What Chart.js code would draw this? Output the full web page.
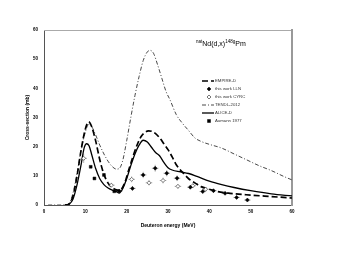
<!DOCTYPE html>
<html>
<head>
<meta charset="utf-8">
<script src="https://cdn.jsdelivr.net/npm/chart.js@4.4.1/dist/chart.umd.min.js"></script>
<style>body{margin:0;background:#fff}</style>
</head>
<body>
<canvas id="grafico" width="341" height="264"></canvas>
<script>
// curvas teoricas
const energiaEmpire = [5, 6, 7, 8, 9, 10, 10.8, 11.5, 12.5, 13.5, 14.5, 15.5, 16.5, 17.5, 18.3, 19.5, 20.5, 21.5, 22.5, 23.5, 24.5, 25.3, 26, 27, 28, 29, 30, 31, 32, 33, 33.8, 35, 36.6, 38, 40, 42, 45, 50, 55, 60];
const empire = [0, 0.3, 3, 10, 19, 26, 28.5, 27, 22, 15.5, 10.5, 7.5, 6, 5.2, 5, 7.5, 12, 16.5, 20.5, 23.5, 25, 25.4, 25.3, 24.5, 23, 21, 19, 16.5, 13.8, 12, 10.8, 9, 7.5, 6.3, 5.4, 4.6, 4, 3.4, 2.9, 2.4];

const energiaAlice = [5.5, 6, 7, 8, 9, 9.7, 10.3, 10.9, 11.5, 12.5, 13.5, 14.5, 15.5, 16.5, 17.5, 18.2, 19, 20, 21, 22, 23, 24, 25, 26, 27, 28, 29, 30, 31, 33, 35, 37, 40, 43, 46, 50, 55, 60];
const alice = [0, 0.2, 2, 7, 14, 19.5, 21, 20.3, 17.5, 12.5, 9, 7, 5.8, 5.1, 4.6, 4.1, 5.5, 9, 13.5, 17.5, 20.5, 22.2, 21.6, 19.8, 18, 16.8, 14.6, 12.8, 12, 11.4, 10.8, 9.8, 8.2, 7, 6, 4.9, 3.8, 3.1];

const energiaTendl = [1, 5, 6, 7, 8, 9, 10, 10.9, 11.5, 12.5, 13.5, 14.5, 15.5, 16.5, 17.5, 18.2, 19, 20, 21, 22, 23, 24, 25, 25.7, 26.5, 27.5, 28.5, 29.5, 30.5, 32, 33.5, 35, 36.5, 38, 40, 43, 46, 49, 52, 55, 58, 60];
const tendl = [0, 0, 0.5, 4, 11, 19, 25, 27.8, 27, 24, 20.5, 17.5, 15, 13.2, 12.3, 12.5, 15, 22, 30, 37.5, 44, 49.5, 52.5, 53, 52, 48, 43.5, 39, 36, 31, 28, 25.5, 23, 21.8, 20.8, 19.5, 17.5, 15.5, 13.5, 11.8, 9.8, 8.6];

// datos experimentales
const energiaLLN = [18.2, 21.4, 24, 26.9, 29.7, 32.2, 35.4, 38.4, 41, 43.8, 46.6, 49.2];
const lln = [4.8, 5.7, 10.3, 12.6, 10.9, 9.2, 6.1, 4.6, 4.9, 4.0, 2.6, 1.7];
const errorLLN = [0.6, 0.7, 1.1, 1.2, 1.1, 1.0, 0.7, 0.6, 0.6, 0.5, 0.4, 0.3];

const energiaCYRC = [9.6, 16.3, 21.2, 25.4, 28.8, 32.4, 36, 39.1];
const cyrc = [16, 6.8, 8.8, 7.6, 8.4, 6.4, 6.6, 5.4];
const errorCYRC = [1.6, 0.8, 1.0, 0.9, 1.0, 0.8, 0.8, 0.7];

const energiaAumann = [11.3, 12.2, 14.5, 17];
const aumann = [13.1, 9.1, 10.3, 4.7];

const errorEnergia = 0.8;
const ticksX = [0, 10, 20, 30, 40, 50, 60];
const ticksY = [0, 10, 20, 30, 40, 50, 60];
const ordenLeyenda = ['EMPIRE-D', 'this work LLN', 'this work CYRC', 'TENDL-2012', 'ALICE-D', 'Aumann 1977'];

function pares(xs, ys, errs) {
    return xs.map((x, i) => ({ x: x, y: ys[i], err: errs ? errs[i] : 0 }));
}

const fuente = 'Liberation Sans, Arial, sans-serif';

const barrasError = {
    id: 'barrasError',
    beforeDatasetsDraw(chart) {
        const ctx = chart.ctx;
        const sx = chart.scales.x, sy = chart.scales.y;
        ctx.save();
        ctx.strokeStyle = '#999';
        ctx.lineWidth = 0.7;
        chart.data.datasets.forEach(ds => {
            if (!ds.conError) return;
            ds.data.forEach(p => {
                const px = sx.getPixelForValue(p.x), py = sy.getPixelForValue(p.y);
                ctx.beginPath();
                ctx.moveTo(sx.getPixelForValue(p.x - errorEnergia), py);
                ctx.lineTo(sx.getPixelForValue(p.x + errorEnergia), py);
                ctx.moveTo(px, sy.getPixelForValue(p.y - p.err));
                ctx.lineTo(px, sy.getPixelForValue(p.y + p.err));
                ctx.stroke();
            });
        });
        ctx.restore();
    }
};

function marcador(ctx, ds, x, y) {
    const r = ds.pointRadius;
    ctx.beginPath();
    if (ds.pointStyle === 'rectRot') {
        ctx.moveTo(x, y - r);
        ctx.lineTo(x + r, y);
        ctx.lineTo(x, y + r);
        ctx.lineTo(x - r, y);
        ctx.closePath();
    } else {
        const l = r * 0.75;
        ctx.rect(x - l, y - l, 2 * l, 2 * l);
    }
    ctx.fillStyle = ds.pointBackgroundColor;
    ctx.fill();
    ctx.lineWidth = ds.pointBorderWidth;
    ctx.strokeStyle = ds.pointBorderColor;
    ctx.stroke();
}

const leyendaYTitulo = {
    id: 'leyendaYTitulo',
    afterDraw(chart) {
        const ctx = chart.ctx;
        ctx.save();
        // titulo
        let x = 196;
        const yb = 46;
        ctx.fillStyle = '#000';
        ctx.textBaseline = 'alphabetic';
        const piezas = [['nat', 4.5, -3], ['Nd(d,x)', 7, 0], ['148g', 4.5, -3], ['Pm', 7, 0]];
        piezas.forEach(([t, s, dy]) => {
            ctx.font = s + 'px ' + fuente;
            ctx.fillText(t, x, yb + dy);
            x += ctx.measureText(t).width;
        });
        // leyenda
        ctx.font = '4.3px ' + fuente;
        ctx.textBaseline = 'middle';
        ordenLeyenda.forEach((nombre, i) => {
            const ds = chart.data.datasets.find(d => d.label === nombre);
            const y = 81 + i * 8;
            if (ds.showLine === false) {
                marcador(ctx, ds, 209, y);
            } else {
                ctx.strokeStyle = ds.borderColor;
                ctx.lineWidth = ds.borderWidth;
                ctx.setLineDash(ds.borderDash || []);
                ctx.beginPath();
                ctx.moveTo(202, y);
                ctx.lineTo(214, y);
                ctx.stroke();
                ctx.setLineDash([]);
            }
            ctx.fillStyle = '#333';
            ctx.fillText(nombre, 215, y);
        });
        ctx.restore();
    }
};

const ctx = document.getElementById('grafico').getContext('2d');
window.chart = new Chart(ctx, {
    type: 'line',
    data: {
        datasets: [
            {
                label: 'this work LLN', data: pares(energiaLLN, lln, errorLLN), conError: true,
                showLine: false, pointStyle: 'rectRot', pointRadius: 2,
                pointBackgroundColor: '#000', pointBorderColor: '#000', pointBorderWidth: 0.5
            },
            {
                label: 'this work CYRC', data: pares(energiaCYRC, cyrc, errorCYRC), conError: true,
                showLine: false, pointStyle: 'rectRot', pointRadius: 2,
                pointBackgroundColor: '#fff', pointBorderColor: '#555', pointBorderWidth: 0.8
            },
            {
                label: 'Aumann 1977', data: pares(energiaAumann, aumann),
                showLine: false, pointStyle: 'rect', pointRadius: 2,
                pointBackgroundColor: '#000', pointBorderColor: '#000', pointBorderWidth: 0.5
            },
            {
                label: 'ALICE-D', data: pares(energiaAlice, alice),
                borderColor: '#000', borderWidth: 1.3, pointRadius: 0, cubicInterpolationMode: 'monotone'
            },
            {
                label: 'EMPIRE-D', data: pares(energiaEmpire, empire),
                borderColor: '#000', borderWidth: 1.7, borderDash: [6, 3], pointRadius: 0, cubicInterpolationMode: 'monotone'
            },
            {
                label: 'TENDL-2012', data: pares(energiaTendl, tendl),
                borderColor: '#333', borderWidth: 0.9, borderDash: [4, 2, 1, 2], pointRadius: 0, cubicInterpolationMode: 'monotone'
            }
        ]
    },
    options: {
        responsive: false,
        animation: false,
        layout: { padding: 0 },
        plugins: { legend: { display: false }, tooltip: { enabled: false } },
        scales: {
            x: {
                type: 'linear', position: 'bottom', min: 0, max: 60,
                afterBuildTicks: s => { s.ticks = ticksX.map(v => ({ value: v })); },
                afterFit: s => { s.height = 59; },
                grid: { display: false, drawTicks: false },
                border: { color: '#555', width: 1 },
                ticks: { color: '#000', padding: 4, maxRotation: 0, font: { size: 4.5, weight: 'bold', family: fuente } },
                title: { display: true, text: 'Deuteron energy (MeV)', color: '#000', padding: { top: 0, bottom: 35 }, font: { size: 5, weight: 'bold', family: fuente } }
            },
            y: {
                type: 'linear', position: 'left', min: 0, max: 60,
                afterBuildTicks: s => { s.ticks = ticksY.map(v => ({ value: v })); },
                afterFit: s => { s.width = 44; },
                grid: { display: false, drawTicks: false },
                border: { color: '#555', width: 1 },
                ticks: { color: '#000', padding: 6, font: { size: 4.5, weight: 'bold', family: fuente } },
                title: { display: true, text: 'Cross-section (mb)', color: '#000', padding: { top: 25, bottom: 0 }, font: { size: 5, weight: 'bold', family: fuente } }
            },
            x2: {
                type: 'linear', position: 'top', min: 0, max: 60,
                afterFit: s => { s.height = 30; },
                grid: { display: false, drawTicks: false }, ticks: { display: false },
                border: { color: '#aaa', width: 1 }
            },
            y2: {
                type: 'linear', position: 'right', min: 0, max: 60,
                afterFit: s => { s.width = 49; },
                grid: { display: false, drawTicks: false }, ticks: { display: false },
                border: { color: '#999', width: 2 }
            }
        }
    },
    plugins: [barrasError, leyendaYTitulo]
});
</script>
</body>
</html>
